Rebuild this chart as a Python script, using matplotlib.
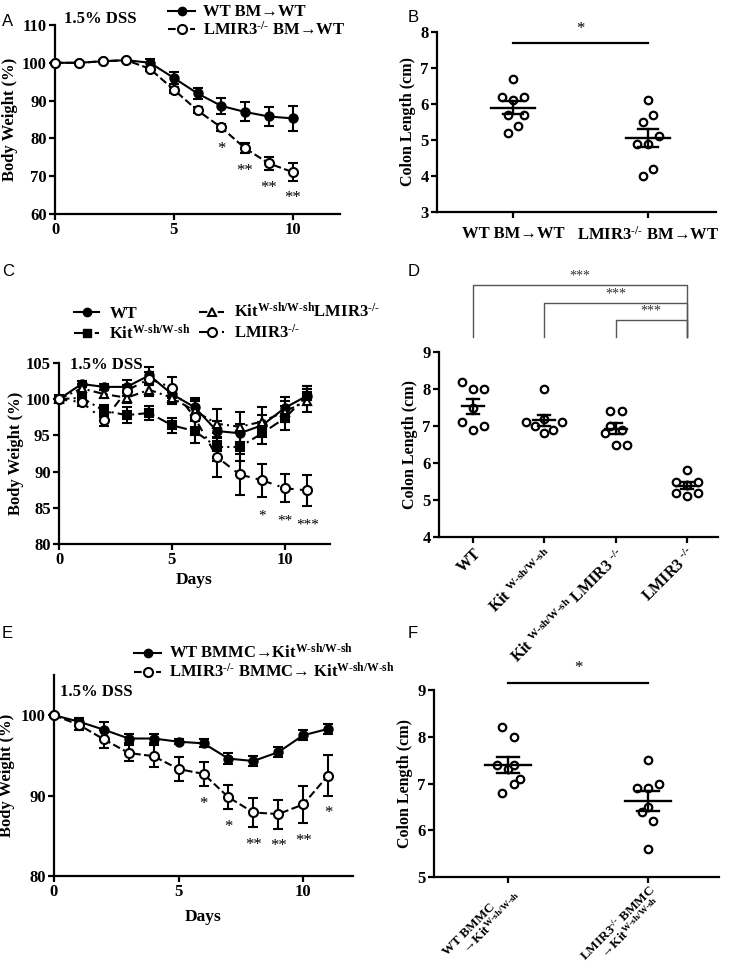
import numpy as np
import matplotlib
matplotlib.use("Agg")
import matplotlib.pyplot as plt
from matplotlib.lines import Line2D

plt.rcParams.update({
    'font.family': ['Liberation Serif', 'DejaVu Serif'],
    'font.weight': 'bold',
    'axes.labelweight': 'bold',
    'font.size': 11,
    'mathtext.fontset': 'custom',
    'mathtext.rm': 'Liberation Serif:bold',
    'mathtext.bf': 'Liberation Serif:bold',
    'mathtext.it': 'Liberation Serif:bold:italic',
    'mathtext.default': 'rm',
    'axes.linewidth': 1.6,
})

# ---------------- data ----------------
KIT = r'Kit$^{\rm W\text{-}sh/W\text{-}sh}$'
KO = r'LMIR3$^{\text{-/-}}$'

# A
days_a = np.arange(0, 11)
wt_a = [100, 100, 100.4, 100.7, 100.0, 96.0, 91.9, 88.6, 87.0, 85.8, 85.3]
wt_a_err = [0.3, 0.3, 0.3, 0.3, 1.0, 1.5, 1.4, 2.2, 2.5, 2.5, 3.4]
ko_a = [100, 100, 100.4, 100.7, 98.4, 92.9, 87.4, 82.9, 77.4, 73.4, 71.1]
ko_a_err = [0.3, 0.3, 0.3, 0.3, 0.6, 0.8, 0.8, 1.0, 1.3, 1.8, 2.3]
stars_a = {7: '*', 8: '**', 9: '**', 10: '**'}

# B
b_labels = ['WT BM→WT', KO + ' BM→WT']
b_wt = [6.7, 6.2, 6.1, 6.2, 5.7, 5.7, 5.4, 5.2]
b_ko = [6.1, 5.7, 5.5, 5.1, 4.9, 4.9, 4.2, 4.0]

# C
days_c = np.arange(0, 12)
wt_c = [100, 102.1, 101.7, 101.7, 103.3, 100.7, 98.9, 95.6, 95.3, 96.4, 98.8, 100.5]
wt_c_err = [0.2, 0.4, 0.4, 0.9, 1.1, 0.9, 1.2, 1.4, 1.3, 1.4, 1.5, 1.3]
kit_c = [100, 100.2, 98.4, 97.8, 98.1, 96.4, 95.6, 93.4, 93.4, 95.3, 97.4, 100.5]
kit_c_err = [0.2, 0.5, 0.8, 1.1, 1.0, 1.0, 1.7, 2.0, 2.0, 1.5, 1.7, 1.3]
tri_c = [100, 101.5, 100.7, 100.2, 101.3, 100.2, 98.4, 96.6, 96.2, 96.9, 98.3, 99.8]
tri_c_err = [0.2, 0.6, 0.6, 0.7, 0.8, 0.8, 1.4, 2.0, 2.1, 2.0, 1.5, 1.6]
ko_c = [100, 99.6, 97.1, 101.2, 102.8, 101.6, 97.5, 92.0, 89.6, 88.8, 87.7, 87.4]
ko_c_err = [0.2, 0.5, 0.8, 0.8, 0.9, 1.4, 2.4, 2.8, 2.8, 2.3, 1.9, 2.1]
stars_c = {9: '*', 10: '**', 11: '***'}

# D
d_labels = ['WT', 'Kit ' + KIT[3:],
            'Kit ' + KIT[3:] + ' LMIR3 ' + KO[5:], 'LMIR3 ' + KO[5:]]
d_groups = [[8.2, 8.0, 8.0, 7.5, 7.1, 6.9, 7.0],
            [8.0, 7.1, 7.0, 6.8, 6.9, 7.1, 7.2],
            [7.4, 7.4, 7.0, 6.9, 6.8, 6.5, 6.5],
            [5.8, 5.5, 5.5, 5.4, 5.2, 5.2, 5.1]]
d_compare = [(0, 3, '***'), (1, 3, '***'), (2, 3, '***')]

# E
days_e = np.arange(0, 12)
wt_e = [100, 99.2, 98.2, 97.1, 97.1, 96.7, 96.5, 94.6, 94.3, 95.4, 97.5, 98.3]
wt_e_err = [0.2, 0.4, 1.0, 0.5, 0.6, 0.3, 0.5, 0.7, 0.6, 0.6, 0.6, 0.6]
ko_e = [100, 98.8, 97.0, 95.3, 94.9, 93.3, 92.7, 89.8, 87.9, 87.7, 88.9, 92.5]
ko_e_err = [0.2, 0.6, 1.1, 1.0, 1.4, 1.5, 1.5, 1.5, 1.8, 1.8, 2.3, 2.5]
stars_e = {6: '*', 7: '*', 8: '**', 9: '**', 10: '**', 11: '*'}

# F
f_labels = ['WT BMMC\n     →' + KIT, KO + ' BMMC\n     →' + KIT]
f_wt = [8.2, 8.0, 7.4, 7.3, 7.4, 7.1, 7.0, 6.8]
f_ko = [7.5, 6.9, 6.9, 7.0, 6.5, 6.4, 6.2, 5.6]

# swarm layout (pixel offsets of the dots)
jit_b = [[0, -10.7, 0, 10.7, -5.3, 10.7, 5.3, -5.3],
         [0, 5.3, -5.3, 10.7, -10.7, 0, 5.3, -5.3]]
jit_d = [[-11, 0, 11, 0, -11, 0, 11],
         [0, -18, -9, 0, 9, 18, 0],
         [-6, 6, -6, 6, -11, 0, 11],
         [0, -11, 11, 0, -11, 11, 0]]
jit_f = [[-5.7, 6, -11, 0, 6, 11.7, 6, -5.7],
         [0, -10.7, 0, 11.7, 0, -5.3, 5.7, 0]]

W, H = 750, 974
fig = plt.figure(figsize=(W / 100, H / 100), dpi=100)


def add_ax(l, t, r, b):
    return fig.add_axes([l / W, 1 - b / H, (r - l) / W, (b - t) / H])


def style(ax):
    for s in ['top', 'right']:
        ax.spines[s].set_visible(False)
    ax.tick_params(direction='out', length=4, width=1.6, labelsize=12, pad=2)


def px_per_unit(ax):
    x0, x1 = ax.get_xlim()
    return ax.get_position().width * W / (x1 - x0)


def curve(ax, x, y, e, marker, face, ls, ms=6):
    ax.errorbar(x, y, yerr=e, color='black', marker=marker, mfc=face, mec='black',
                ms=ms, mew=1.5, ls=ls, lw=1.5, elinewidth=1.5, capsize=3.5, capthick=1.5,
                clip_on=False, zorder=3)


def put_stars(ax, x, y, e, stars, gap=-7, fs=12):
    for d, s in stars.items():
        i = list(x).index(d)
        ax.annotate(s, (d, y[i] - e[i]), xytext=(0, gap), textcoords='offset points',
                    ha='center', va='top', fontsize=fs, fontweight='normal',
                    annotation_clip=False)


def dots(ax, groups, jit, half_px, cap_px):
    ppu = px_per_unit(ax)
    for i, (vals, off) in enumerate(zip(groups, jit)):
        vals = np.array(vals)
        xs = i + np.array(off) / ppu
        ax.plot(xs, vals, 'o', mfc='white', mec='black', ms=5.4, mew=1.6,
                ls='none', clip_on=False, zorder=3)
        m = vals.mean()
        sem = vals.std(ddof=1) / np.sqrt(len(vals))
        hw = half_px / ppu
        cw = cap_px / ppu
        ax.plot([i - hw, i + hw], [m, m], color='black', lw=1.7, zorder=4)
        ax.plot([i, i], [m - sem, m + sem], color='black', lw=1.7, zorder=4)
        for v in (m - sem, m + sem):
            ax.plot([i - cw, i + cw], [v, v], color='black', lw=1.7, zorder=4)


def panel_letter(x, y, s):
    fig.text(x / W, 1 - y / H, s, family='Liberation Sans', fontweight='normal',
             fontsize=12, va='center', ha='left')


# ---------------- A ----------------
ax = add_ax(55, 25, 340, 214)
style(ax)
curve(ax, days_a, wt_a, wt_a_err, 'o', 'black', '-')
curve(ax, days_a, ko_a, ko_a_err, 'o', 'white', '--', ms=6.5)
put_stars(ax, days_a, ko_a, ko_a_err, stars_a)
ax.set_xlim(0, 12)
ax.set_ylim(60, 110)
ax.set_xticks([0, 5, 10])
ax.set_yticks(range(60, 111, 10))
ax.set_ylabel('Body Weight (%)', fontsize=12)
ax.yaxis.set_label_coords(-0.13, 0.5)
ax.text(0.03, 1.03, '1.5% DSS', transform=ax.transAxes, fontsize=12, va='center')
h = [Line2D([], [], color='black', marker='o', mfc='black', ms=6, ls='-', lw=1.5),
     Line2D([], [], color='black', marker='o', mfc='white', ms=6.5, mew=1.5, ls='--', lw=1.5)]
fig.legend(h, ['WT BM→WT', KO + ' BM→WT'], loc='upper left',
           bbox_to_anchor=(160 / W, 1.004), frameon=False, fontsize=12,
           handlelength=1.6, handletextpad=0.5, labelspacing=0.05, borderpad=0)

# ---------------- B ----------------
ax = add_ax(437, 32, 716, 212)
style(ax)
ax.set_xlim(-0.563, 1.504)
ax.set_ylim(3, 8)
dots(ax, [b_wt, b_ko], jit_b, 22, 10)
ax.set_xticks([0, 1])
ax.set_xticklabels(b_labels, fontsize=12)
ax.tick_params(axis='x', pad=6)
ax.set_ylabel('Colon Length (cm)', fontsize=11.5)
ax.yaxis.set_label_coords(-0.075, 0.5)
ax.plot([0, 1], [7.69, 7.69], color='black', lw=1.6, clip_on=False)
ax.text(0.5, 7.85, '*', ha='center', va='bottom', fontsize=12, fontweight='normal')

# ---------------- C ----------------
ax = add_ax(59, 363, 330, 544)
style(ax)
curve(ax, days_c, wt_c, wt_c_err, 'o', 'black', '-')
curve(ax, days_c, tri_c, tri_c_err, '^', 'white', (0, (4, 2, 1, 2)))
curve(ax, days_c, kit_c, kit_c_err, 's', 'black', (0, (5, 2, 1, 2)), ms=5.5)
curve(ax, days_c, ko_c, ko_c_err, 'o', 'white', (0, (4, 3, 1, 3)), ms=6.5)
put_stars(ax, days_c, ko_c, ko_c_err, stars_c, gap=-9, fs=11)
ax.set_xlim(0, 12)
ax.set_ylim(80, 105)
ax.set_xticks([0, 5, 10])
ax.set_yticks(range(80, 106, 5))
ax.set_xlabel('Days', fontsize=12.5, labelpad=3)
ax.set_ylabel('Body Weight (%)', fontsize=12)
ax.yaxis.set_label_coords(-0.13, 0.5)
ax.text(0.04, 0.99, '1.5% DSS', transform=ax.transAxes, fontsize=12, va='center')
h = [Line2D([], [], color='black', marker='o', mfc='black', ms=6, ls='-', lw=1.5),
     Line2D([], [], color='black', marker='s', mfc='black', ms=5.5, ls=(0, (5, 2, 1, 2)), lw=1.5),
     Line2D([], [], color='black', marker='^', mfc='white', ms=6, mew=1.5, ls=(0, (4, 2, 1, 2)), lw=1.5),
     Line2D([], [], color='black', marker='o', mfc='white', ms=6.5, mew=1.5, ls=(0, (4, 3, 1, 3)), lw=1.5)]
fig.legend(h, ['WT', KIT, KIT + KO, KO], loc='upper left', ncol=2,
           bbox_to_anchor=(66 / W, 1 - 294 / H), frameon=False, fontsize=12,
           handlelength=1.5, handletextpad=0.6, labelspacing=0.15, columnspacing=0.5,
           borderpad=0)

# ---------------- D ----------------
ax = add_ax(439, 352, 718, 537)
style(ax)
ax.set_xlim(-0.48, 3.44)
ax.set_ylim(4, 9)
dots(ax, d_groups, jit_d, 11, 6)
ax.set_xticks(range(4))
ax.set_xticklabels(d_labels, rotation=45, ha='right', rotation_mode='anchor', fontsize=11.5)
ax.set_ylabel('Colon Length (cm)', fontsize=11.5)
ax.yaxis.set_label_coords(-0.075, 0.5)
levels = [10.81, 10.32, 9.86]
for (a, b, s), lv in zip(d_compare, levels):
    ax.plot([a, a, b, b], [9.4, lv, lv, 9.4], color='#555555', lw=1.0, clip_on=False)
    ax.text((a + b) / 2, lv + 0.08, s, ha='center', va='bottom', fontsize=10,
            fontweight='normal', color='#333333')

# ---------------- E ----------------
ax = add_ax(54, 675, 353, 876)
style(ax)
curve(ax, days_e, wt_e, wt_e_err, 'o', 'black', '-')
curve(ax, days_e, ko_e, ko_e_err, 'o', 'white', '--', ms=6.5)
put_stars(ax, days_e, ko_e, ko_e_err, stars_e)
ax.set_xlim(0, 12)
ax.set_ylim(80, 105)
ax.set_xticks([0, 5, 10])
ax.set_yticks([80, 90, 100])
ax.set_xlabel('Days', fontsize=12.5, labelpad=6)
ax.set_ylabel('Body Weight (%)', fontsize=12)
ax.yaxis.set_label_coords(-0.13, 0.5)
ax.text(0.02, 0.915, '1.5% DSS', transform=ax.transAxes, fontsize=12, va='center')
h = [Line2D([], [], color='black', marker='o', mfc='black', ms=6, ls='-', lw=1.5),
     Line2D([], [], color='black', marker='o', mfc='white', ms=6.5, mew=1.5, ls='--', lw=1.5)]
fig.legend(h, ['WT BMMC→' + KIT, KO + ' BMMC→ ' + KIT], loc='upper left',
           bbox_to_anchor=(126 / W, 1 - 635 / H), frameon=False, fontsize=12,
           handlelength=1.6, handletextpad=0.5, labelspacing=0.0, borderpad=0)

# ---------------- F ----------------
ax = add_ax(434, 690, 719, 877)
style(ax)
ax.set_xlim(-0.53, 1.51)
ax.set_ylim(5, 9)
dots(ax, [f_wt, f_ko], jit_f, 23, 11)
ax.set_xticks([0, 1])
ax.set_xticklabels(f_labels, rotation=45, ha='right', rotation_mode='anchor',
                   fontsize=9.5, multialignment='left', linespacing=0.9)
ax.tick_params(axis='x', pad=0)
ax.set_yticks(range(5, 10))
ax.set_ylabel('Colon Length (cm)', fontsize=11.5)
ax.yaxis.set_label_coords(-0.075, 0.5)
ax.plot([0, 1], [9.14, 9.14], color='black', lw=1.6, clip_on=False)
ax.text(0.5, 9.3, '*', ha='center', va='bottom', fontsize=12, fontweight='normal')

panel_letter(2, 22, 'A')
panel_letter(408, 18, 'B')
panel_letter(2, 272, 'C')
panel_letter(408, 272, 'D')
panel_letter(2, 634, 'E')
panel_letter(408, 634, 'F')

fig.savefig('out.png', dpi=100)
